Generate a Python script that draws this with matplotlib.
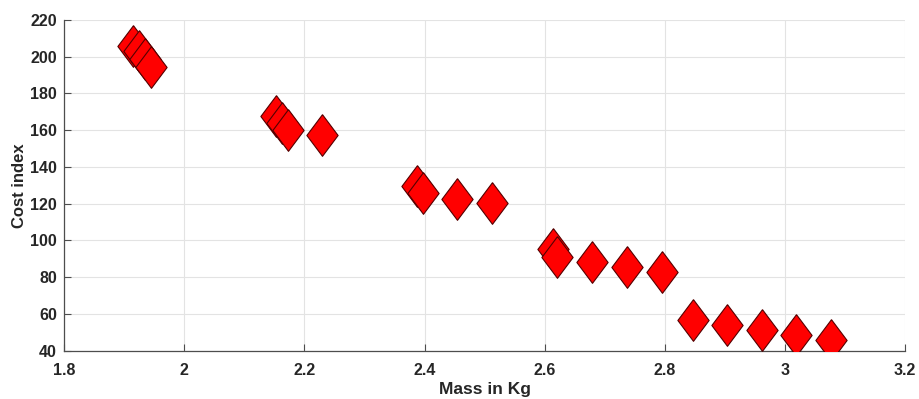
import matplotlib.pyplot as plt
import numpy as np

# mass (kg) and cost index
mass = [1.915, 1.925, 1.935, 1.945,
        2.152, 2.162, 2.172, 2.229,
        2.388, 2.398, 2.454, 2.513,
        2.613, 2.621, 2.679, 2.737, 2.795,
        2.847, 2.904, 2.962, 3.019, 3.077]
cost = [206, 203, 199, 194.5,
        168, 164, 160, 157.5,
        129.6, 125.6, 122.6, 120.2,
        95.1, 91.1, 88.4, 85.7, 83.0,
        56.7, 54.0, 51.3, 48.5, 45.8]

xticks = [1.8, 2, 2.2, 2.4, 2.6, 2.8, 3, 3.2]
yticks = [40, 60, 80, 100, 120, 140, 160, 180, 200, 220]

plt.rcParams['font.family'] = ['Liberation Sans', 'DejaVu Sans']

fig = plt.figure(figsize=(9.19, 3.99), dpi=100)
ax = fig.add_axes([0.0697, 0.121, 0.9153, 0.829])

# thin diamond, a bit wider than matplotlib's 'd'
diamond = [(0, 1), (0.75, 0), (0, -1), (-0.75, 0), (0, 1)]
for x, y in zip(mass, cost):
    ax.plot([x], [y], linestyle='none', marker=diamond, markersize=30,
            markerfacecolor='#ff0000', markeredgecolor='#550000',
            markeredgewidth=0.8, zorder=3)

ax.set_xlim(1.8, 3.2)
ax.set_ylim(40, 220)
ax.set_xticks(xticks)
ax.set_xticklabels([('%g' % t) for t in xticks])
ax.set_yticks(yticks)
ax.grid(True, color='#e3e3e3', linewidth=0.8)
ax.set_axisbelow(True)

for s in ['top', 'right']:
    ax.spines[s].set_visible(False)
for s in ['left', 'bottom']:
    ax.spines[s].set_color('#4d4d4d')
    ax.spines[s].set_linewidth(0.9)

ax.tick_params(direction='in', length=5, width=0.8, color='#4d4d4d',
               labelsize=11.5, labelcolor='#262626')
ax.tick_params(axis='x', pad=9)
ax.tick_params(axis='y', pad=5)
for lab in ax.get_xticklabels() + ax.get_yticklabels():
    lab.set_fontweight('bold')

ax.set_xlabel('Mass in Kg', fontsize=12.5, fontweight='bold', color='#262626', labelpad=3)
ax.set_ylabel('Cost index', fontsize=12, fontweight='bold', color='#262626', labelpad=2)

fig.savefig('out.png', dpi=100)
